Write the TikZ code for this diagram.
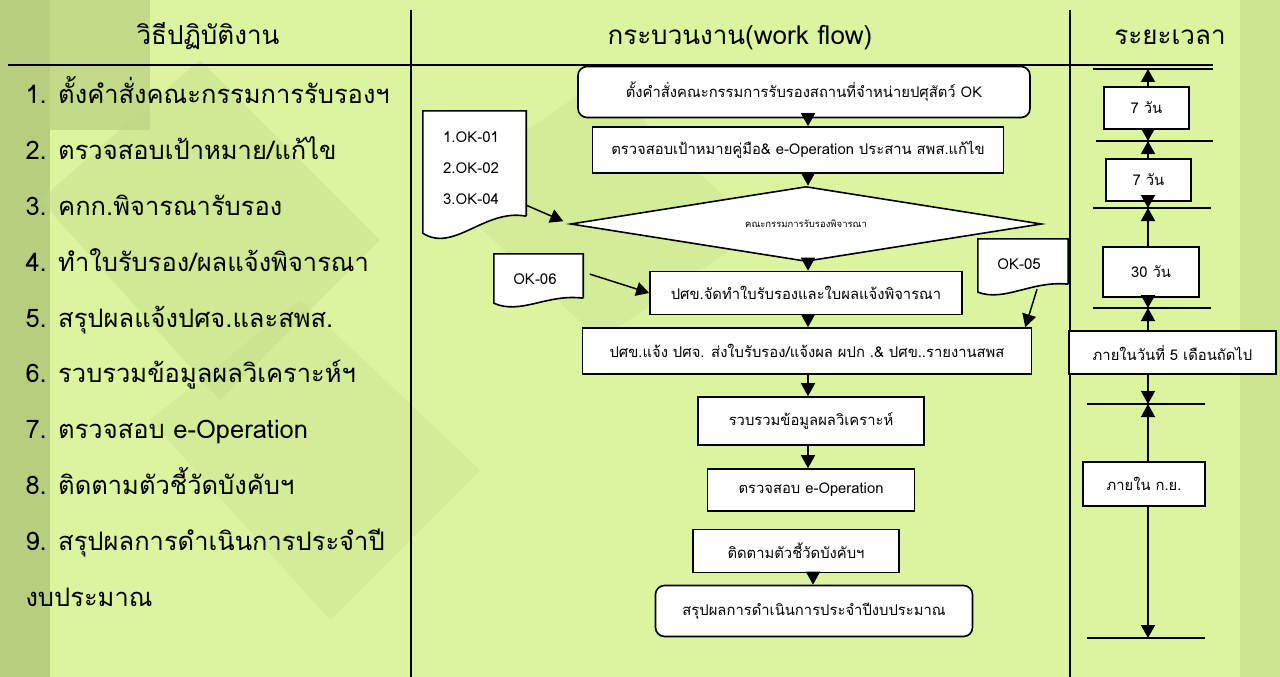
\documentclass[tikz,border=0pt]{standalone}
\usepackage{fontspec}
\setmainfont[Script=Thai]{Loma}
\usepackage{tikz}
\usetikzlibrary{arrows.meta,positioning,calc,shapes.geometric}
\definecolor{bgbase}{RGB}{219,244,158}
\definecolor{bgdark}{RGB}{140,160,90}
\definecolor{bgmid}{RGB}{190,215,132}
\tikzstyle{rule}=[line width=1.7pt]
\tikzstyle{headtext}=[anchor=base,font=\fontsize{26}{29}\selectfont]
\tikzstyle{steptext}=[anchor=base west,font=\fontsize{25.5}{28}\selectfont]
\tikzstyle{flowbox}=[draw,fill=white,line width=1.6pt,inner sep=0pt,font=\fontsize{14.8}{17}\selectfont]
\tikzstyle{roundbox}=[flowbox,rounded corners=9pt]
\tikzstyle{docnode}=[inner sep=0pt,font=\fontsize{15}{17}\selectfont]
\tikzstyle{docline}=[draw,fill=white,line width=1.6pt]
\tikzstyle{timebox}=[draw,fill=white,line width=1.6pt,inner sep=0pt,font=\fontsize{14.8}{17}\selectfont]
\tikzstyle{flowarrow}=[line width=1.5pt,-{Triangle[length=13pt,width=14pt]}]
\tikzstyle{timearrow}=[line width=1.5pt,-{Triangle[length=13pt,width=14pt]}]
% outline of a document shape round a node: #2 = drop of the left end, #3 = dip of the wave
\newcommand{\docoutline}[3]{%
  \draw[docline] (#1.south east) -- (#1.north east) -- (#1.north west)
    -- ($(#1.south west)+(0,#2)$)
    .. controls ($(#1.south west)!0.3!(#1.south east)+(0,{#2+#3})$)
    and ($(#1.south west)!0.6!(#1.south east)+(0,{-#3*0.4})$) .. (#1.south east);}

\begin{document}
\begin{tikzpicture}[x=1pt,y=-1pt]
\useasboundingbox (0,0) rectangle (1280,677);
% background
\fill[bgbase] (0,0) rectangle (1280,677);
\fill[bgdark,opacity=0.45] (0,0) rectangle (50,677);
\fill[bgdark,opacity=0.3] (50,0) -- (150,0) -- (150,130) -- (50,130) -- cycle;
\fill[bgmid,opacity=0.35] (40,200) -- (200,60) -- (380,240) -- (220,400) -- cycle;
\fill[bgmid,opacity=0.25] (150,420) -- (300,300) -- (480,470) -- (330,620) -- cycle;
\fill[bgmid,opacity=0.25] (440,190) -- (600,80) -- (760,230) -- (600,340) -- cycle;
\fill[bgmid,opacity=0.5] (1240,0) rectangle (1280,677);

% table rules
\draw[rule] (411,10) -- (411,677);
\draw[rule] (1070,10) -- (1070,677);
\draw[rule] (8,65) -- (1213,65);

% headers
\node[headtext] (h1) at (208,45) {วิธีปฏิบัติงาน};
\node[headtext] (h2) at (740,45) {กระบวนงาน(work flow)};
\node[headtext] (h3) at (1170,45) {ระยะเวลา};

% steps
\node[steptext] (s1) at (22,103) {1. ตั้งคำสั่งคณะกรรมการรับรองฯ};
\node[steptext] (s2) at (22,159) {2. ตรวจสอบเป้าหมาย/แก้ไข};
\node[steptext] (s3) at (22,215) {3. คกก.พิจารณารับรอง};
\node[steptext] (s4) at (22,271) {4. ทำใบรับรอง/ผลแจ้งพิจารณา};
\node[steptext] (s5) at (22,327) {5. สรุปผลแจ้งปศจ.และสพส.};
\node[steptext] (s6) at (22,382) {6. รวบรวมข้อมูลผลวิเคราะห์ฯ};
\node[steptext] (s7) at (22,438) {7. ตรวจสอบ e-Operation};
\node[steptext] (s8) at (22,494) {8. ติดตามตัวชี้วัดบังคับฯ};
\node[steptext] (s9) at (22,550) {9. สรุปผลการดำเนินการประจำปี};
\node[steptext] (s9b) at (22,606) {งบประมาณ};

% work flow
\node[roundbox,minimum width=452pt,minimum height=51pt] (order) at (804,92) {ตั้งคำสั่งคณะกรรมการรับรองสถานที่จำหน่ายปศุสัตว์ OK};
\node[flowbox,minimum width=411pt,minimum height=46pt] (check) at (798,150) {ตรวจสอบเป้าหมายคู่มือ\& e-Operation ประสาน สพส.แก้ไข};
\node[flowbox,diamond,aspect=6.3,minimum width=471pt,minimum height=75pt,font=\fontsize{9.5}{11}\selectfont] (board) at (806,224) {คณะกรรมการรับรองพิจารณา};
\node[flowbox,minimum width=312pt,minimum height=43pt] (cert) at (806,293) {ปศข.จัดทำใบรับรองและใบผลแจ้งพิจารณา};
\node[flowbox,minimum width=449pt,minimum height=46pt] (notify) at (807,351) {ปศข.แจ้ง ปศจ. ส่งใบรับรอง/แจ้งผล ผปก .\& ปศข..รายงานสพส};
\node[flowbox,minimum width=226pt,minimum height=48pt] (collect) at (811,421) {รวบรวมข้อมูลผลวิเคราะห์};
\node[flowbox,minimum width=207pt,minimum height=42pt] (eop) at (811,490) {ตรวจสอบ e-Operation};
\node[flowbox,minimum width=206pt,minimum height=43pt] (track) at (796,551) {ติดตามตัวชี้วัดบังคับฯ};
\node[roundbox,minimum width=317pt,minimum height=51pt] (summary) at (814,611) {สรุปผลการดำเนินการประจำปีงบประมาณ};

\coordinate (axis) at (808,0);
\draw[flowarrow] (axis |- order.south) -- (axis |- check.north);
\draw[flowarrow] (axis |- check.south) -- (axis |- board.north);
\draw[flowarrow] (axis |- board.south) -- (axis |- cert.north);
\draw[flowarrow] (axis |- cert.south) -- (axis |- notify.north);
\draw[flowarrow] (axis |- notify.south) -- (axis |- collect.north);
\draw[flowarrow] (axis |- collect.south) -- (axis |- eop.north);
\draw[flowarrow] ($(axis |- track.south)+(5,0)$) -- ($(axis |- summary.north)+(5,0)$);

% forms
\node[docnode,minimum width=103pt,minimum height=105pt] (forms) at (474.5,163.5) {};
\docoutline{forms}{17}{20}
\node[docnode] (ok1) at (471,137) {1.OK-01};
\node[docnode] (ok2) at (471,168) {2.OK-02};
\node[docnode] (ok4) at (471,199) {3.OK-04};
\node[docnode,minimum width=89pt,minimum height=44pt] (ok6) at (538.5,276) {};
\docoutline{ok6}{5}{12}
\node[docnode] at (535,279) {OK-06};
\node[docnode,minimum width=90pt,minimum height=45pt] (ok5) at (1023,261.5) {};
\docoutline{ok5}{8}{10}
\node[docnode] at (1019,264) {OK-05};

\draw[flowarrow,shorten >=7pt] ($(forms.south east)+(0,-11)$) -- (board.west);
\draw[flowarrow,shorten <=7pt] ($(ok6.east)+(0,-4)$) -- (cert.west);
\draw[flowarrow] ($(ok5.south)+(14,5)$) -- ($(notify.north east)+(-7,0)$);

% time line
\draw[rule] (1093,69) -- (1213,69) coordinate (l0);
\draw[rule] (1096,141) -- (1213,141) coordinate (l1);
\draw[rule] (1093,208) -- (1211,208) coordinate (l2);
\draw[rule] (1093,308) -- (1211,308) coordinate (l3);
\draw[rule] (1087,404) -- (1205,404) coordinate (l4);
\draw[rule] (1087,638) -- (1205,638) coordinate (l5);

\node[timebox,minimum width=85pt,minimum height=42pt] (d7a) at (1146.5,108) {7 วัน};
\node[timebox,minimum width=85pt,minimum height=42pt] (d7b) at (1148.5,180) {7 วัน};
\node[timebox,minimum width=96pt,minimum height=50pt] (d30) at (1151,272) {30 วัน};
\node[timebox,minimum width=207pt,minimum height=43pt] (d5th) at (1172.5,352.5) {ภายในวันที่ 5 เดือนถัดไป};
\node[timebox,minimum width=122pt,minimum height=44pt] (dsep) at (1144,484) {ภายใน ก.ย.};

\coordinate (tax) at (1148,0);
\draw[timearrow] (tax |- d7a.north) -- (tax |- l0);
\draw[timearrow] (tax |- d7a.south) -- (tax |- l1);
\draw[timearrow] (tax |- d7b.north) -- (tax |- l1);
\draw[timearrow] (tax |- d7b.south) -- (tax |- l2);
\draw[timearrow] (tax |- d30.north) -- (tax |- l2);
\draw[timearrow] (tax |- d30.south) -- (tax |- l3);
\draw[timearrow] (tax |- d5th.north) -- (tax |- l3);
\draw[timearrow] (tax |- d5th.south) -- (tax |- l4);
\draw[timearrow] (tax |- dsep.north) -- (tax |- l4);
\draw[timearrow] (tax |- dsep.south) -- (tax |- l5);
\end{tikzpicture}
\end{document}
